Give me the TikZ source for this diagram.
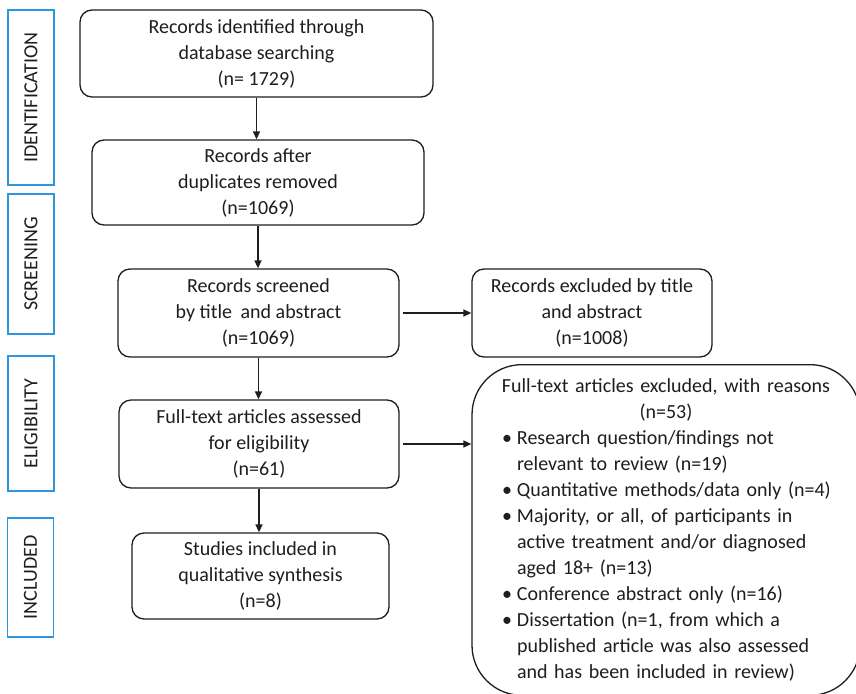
\documentclass[tikz,border=0pt]{standalone}
\usepackage{fontspec}
\setmainfont{Carlito}
\usetikzlibrary{arrows.meta}
\definecolor{stageblue}{RGB}{45,150,225}
\definecolor{inkgray}{RGB}{30,30,30}
\newcommand{\reasonitem}[1]{\par\hangindent=17pt\hangafter=1\noindent\makebox[17pt][l]{\hspace{2pt}\textbullet}#1\par}

\begin{document}
\begin{tikzpicture}[x=1pt, y=-1pt,
    flowbox/.style={draw=inkgray, line width=1.3pt, rounded corners=12pt, align=center,
        text=inkgray, font=\fontsize{20}{26}\selectfont, inner sep=0pt},
    reasonbox/.style={draw=inkgray, line width=1.3pt, rounded corners=50pt, text=inkgray,
        font=\fontsize{20}{26}\selectfont, text width=332pt, inner xsep=28pt, inner ysep=14pt},
    stagebox/.style={draw=stageblue, line width=1.3pt, rotate=90, minimum height=46pt,
        inner sep=0pt, text=inkgray, font=\fontsize{20}{22}\selectfont},
    flowarrow/.style={draw=inkgray, line width=1.3pt, -{Triangle[length=8pt,width=7pt]}}]
    \clip (0,0) rectangle (856,693);
    \fill[white] (0,0) rectangle (856,693);

    % 阶段标签
    \node[stagebox, minimum width=175pt] (ident) at (31,97.5) {IDENTIFICATION};
    \node[stagebox, minimum width=140pt] (screen) at (31,264) {SCREENING};
    \node[stagebox, minimum width=135pt] (elig) at (31,423.5) {ELIGIBILITY};
    \node[stagebox, minimum width=119pt] (incl) at (30.5,577.5) {INCLUDED};

    % 主流程
    \node[flowbox, minimum width=353pt, minimum height=87pt] (found) at (256.5,53.5)
        {Records identified through\\database searching\\(n= 1729)};
    \node[flowbox, minimum width=332pt, minimum height=85pt] (dedup) at (258,182.5)
        {Records after\\duplicates removed\\(n=1069)};
    \node[flowbox, minimum width=281pt, minimum height=88pt] (screened) at (258.5,313)
        {Records screened\\by title\hspace{4pt} and abstract\\(n=1069)};
    \node[flowbox, minimum width=280pt, minimum height=88pt] (fulltext) at (259,444)
        {Full-text articles assessed\\for eligibility\\(n=61)};
    \node[flowbox, minimum width=257pt, minimum height=86pt] (included) at (260.5,576)
        {Studies included in\\qualitative synthesis\\(n=8)};

    % 排除
    \node[flowbox, minimum width=240pt, minimum height=88pt] (dropped) at (592,313)
        {Records excluded by title\\and abstract\\(n=1008)};
    \node[reasonbox, anchor=north] (reasons) at (666,364) {%
        \hbox to\linewidth{\hss Full-text articles excluded, with reasons\hss}
        \hbox to\linewidth{\hss (n=53)\hss}
        \raggedright
        \reasonitem{Research question/findings not\newline relevant to review (n=19)}
        \reasonitem{Quantitative methods/data only (n=4)}
        \reasonitem{Majority, or all, of participants in\newline active treatment and/or diagnosed\newline aged 18+ (n=13)}
        \reasonitem{Conference abstract only (n=16)}
        \reasonitem{Dissertation (n=1, from which a\newline published article was also assessed\newline and has been included in review)}};

    % 箭头
    \draw[flowarrow] (found.south) -- (found.south |- dedup.north);
    \draw[flowarrow] (dedup.south) -- (dedup.south |- screened.north);
    \draw[flowarrow] (screened.south) -- (screened.south |- fulltext.north);
    \draw[flowarrow] (fulltext.south) -- (fulltext.south |- included.north);
    \draw[flowarrow, shorten <=3pt] (screened.east) -- (dropped.west);
    \draw[flowarrow, shorten <=3pt] (fulltext.east) -- (fulltext.east -| reasons.west);
\end{tikzpicture}
\end{document}
